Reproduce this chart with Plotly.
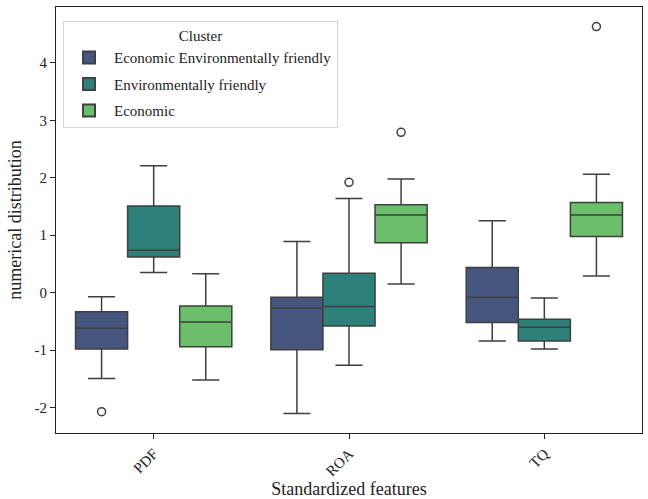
import plotly.graph_objects as go

features = ["PDF", "ROA", "TQ"]
clusters = ["Economic Environmentally friendly", "Environmentally friendly", "Economic"]
colors = ["#46567f", "#2e807a", "#6bbe6a"]

# per cluster, per feature: lower whisker, Q1, median, Q3, upper whisker
lower = [[-1.49, -2.10, -0.84], [0.35, -1.26, -0.98], [-1.52, 0.15, 0.29]]
q1 = [[-0.98, -0.99, -0.52], [0.62, -0.58, -0.84], [-0.94, 0.87, 0.98]]
median = [[-0.62, -0.27, -0.08], [0.74, -0.24, -0.60], [-0.51, 1.35, 1.35]]
q3 = [[-0.33, -0.08, 0.44], [1.51, 0.34, -0.46], [-0.23, 1.53, 1.57]]
upper = [[-0.07, 0.89, 1.25], [2.21, 1.64, -0.09], [0.33, 1.98, 2.06]]
# outliers: (feature index, value)
outliers = [[(0, -2.07)], [(1, 1.92)], [(1, 2.79), (2, 4.63)]]

y_ticks = [-2, -1, 0, 1, 2, 3, 4]
y_ticktext = [str(v) for v in y_ticks]

group_width = 0.8
n = len(clusters)
bw = group_width / n
line_col = "#3f3f3f"

fig = go.Figure()
for i, c in enumerate(clusters):
    off = -group_width / 2 + bw * (i + 0.5)
    xs = [k + off for k in range(len(features))]
    fig.add_trace(go.Box(
        name=c, x=xs, q1=q1[i], median=median[i], q3=q3[i],
        lowerfence=lower[i], upperfence=upper[i],
        width=bw, whiskerwidth=0.52,
        fillcolor=colors[i], line=dict(color=line_col, width=1.5),
        boxpoints=False, legendgroup=c, showlegend=True,
        hoverinfo="skip",
    ))
    if outliers[i]:
        fig.add_trace(go.Scatter(
            x=[k + off for k, v in outliers[i]], y=[v for k, v in outliers[i]],
            mode="markers", showlegend=False, legendgroup=c,
            marker=dict(symbol="circle-open", size=8, color=line_col, line=dict(width=1.5)),
        ))

font = "Liberation Serif, Times New Roman, serif"
fig.update_layout(
    width=648, height=499,
    margin=dict(l=56, r=6, t=7, b=66),
    plot_bgcolor="white", paper_bgcolor="white",
    font=dict(family=font, size=15, color="#222"),
    boxmode="overlay",
    showlegend=True,
    legend=dict(
        x=0.012, y=0.968, xanchor="left", yanchor="top",
        bordercolor="#d6d6d6", borderwidth=1, bgcolor="rgba(255,255,255,0.8)",
        title=dict(text="Cluster", side="top center", font=dict(size=15)),
        font=dict(size=15), tracegroupgap=4, itemsizing="constant", itemwidth=40,
    ),
    xaxis=dict(
        range=[-0.5, 2.5], tickmode="array", tickvals=list(range(len(features))),
        ticktext=features, tickangle=-45, showgrid=False, zeroline=False,
        showline=True, linecolor="#222", linewidth=1.2, mirror=True,
        ticks="outside", ticklen=5, tickcolor="#222", automargin=False,
        title=dict(text="Standardized features", font=dict(size=18), standoff=6),
        tickfont=dict(size=15),
    ),
    yaxis=dict(
        range=[-2.44, 4.97], tickmode="array", tickvals=y_ticks, ticktext=y_ticktext,
        showgrid=False, zeroline=False,
        showline=True, linecolor="#222", linewidth=1.2, mirror=True,
        ticks="outside", ticklen=5, tickcolor="#222", automargin=False,
        title=dict(text="numerical distribution", font=dict(size=18), standoff=8),
        tickfont=dict(size=15),
    ),
)

fig.write_html("out.html")
